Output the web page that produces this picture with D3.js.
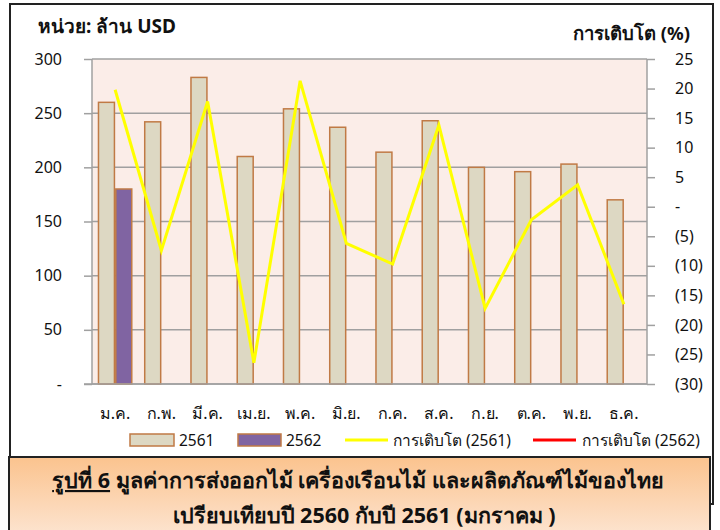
<!DOCTYPE html>
<html lang="th">
<head>
<meta charset="UTF-8">
<script src="https://cdn.jsdelivr.net/npm/d3@7"></script>
<style>
    * { margin: 0; padding: 0; }
    body { background: #fff; }
    text { font-family: Tahoma, "Noto Sans", "DejaVu Sans", sans-serif; fill: #111; }
</style>
<title>มูลค่าการส่งออกไม้</title>
</head>
<body>
<script>
    const width = 720;
    const height = 530;

    const months = ["ม.ค.", "ก.พ.", "มี.ค.", "เม.ย.", "พ.ค.", "มิ.ย.", "ก.ค.", "ส.ค.", "ก.ย.", "ต.ค.", "พ.ย.", "ธ.ค."];
    const years = ["2561", "2562"];
    const value2561 = [260, 242, 283, 210, 254, 237, 214, 243, 200, 196, 203, 170];
    const value2562 = [180];
    const growth2561 = [19.8, -7.4, 17.8, -26.4, 21.3, -6.2, -9.7, 13.8, -17.2, -2.2, 3.7, -16.5];
    const growth2562 = [];
    const leftTicks = [0, 50, 100, 150, 200, 250, 300];
    const rightTicks = [25, 20, 15, 10, 5, 0, -5, -10, -15, -20, -25, -30];

    const plot = { left: 92, right: 647, top: 59, bottom: 384 };
    const barFill = { "2561": "#ddd8c3", "2562": "#8064a2" };
    const barStroke = "#c07a45";
    const gridColor = "#a0a0a0";

    const svg = d3.select("body").append("svg")
        .attr("width", width)
        .attr("height", height);

    // outer frame
    svg.append("rect")
        .attr("x", 10).attr("y", 4)
        .attr("width", 703).attr("height", 500)
        .attr("fill", "#fff")
        .attr("stroke", "#222")
        .attr("stroke-width", 2);

    const x0 = d3.scaleBand().domain(months).range([plot.left, plot.right])
        .paddingInner(0.22).paddingOuter(0.11);
    const x1 = d3.scaleBand().domain(years).range([0, x0.bandwidth()]).padding(0.08);
    const yLeft = d3.scaleLinear().domain([0, 300]).range([plot.bottom, plot.top]);
    const yRight = d3.scaleLinear().domain([-30, 25]).range([plot.bottom, plot.top]);

    // plot background
    svg.append("rect")
        .attr("x", plot.left).attr("y", plot.top)
        .attr("width", plot.right - plot.left).attr("height", plot.bottom - plot.top)
        .attr("fill", "#fbede8");

    // gridlines
    svg.append("g").selectAll("line").data(leftTicks).join("line")
        .attr("x1", plot.left).attr("x2", plot.right)
        .attr("y1", d => yLeft(d)).attr("y2", d => yLeft(d))
        .attr("stroke", gridColor).attr("stroke-width", 1.5);

    // bars
    const rows = months.map((m, i) => ({
        month: m,
        vals: [{ year: "2561", v: value2561[i] }, { year: "2562", v: value2562[i] }].filter(d => d.v != null)
    }));
    const groups = svg.append("g").selectAll("g").data(rows).join("g")
        .attr("transform", d => `translate(${x0(d.month)},0)`);
    groups.selectAll("rect").data(d => d.vals).join("rect")
        .attr("x", d => x1(d.year))
        .attr("y", d => yLeft(d.v))
        .attr("width", x1.bandwidth())
        .attr("height", d => yLeft(0) - yLeft(d.v))
        .attr("fill", d => barFill[d.year])
        .attr("stroke", barStroke)
        .attr("stroke-width", 1.5);

    // axes
    const fmtLeft = d => d === 0 ? "-" : d;
    const fmtRight = d => d === 0 ? "-" : (d < 0 ? `(${-d})` : d);

    const axL = svg.append("g").attr("transform", `translate(${plot.left},0)`)
        .call(d3.axisLeft(yLeft).tickValues(leftTicks).tickSize(8).tickPadding(22).tickFormat(fmtLeft));
    const axR = svg.append("g").attr("transform", `translate(${plot.right},0)`)
        .call(d3.axisRight(yRight).tickValues(rightTicks).tickSize(8).tickPadding(20).tickFormat(fmtRight));
    [axL, axR].forEach(ax => {
        ax.select(".domain").attr("stroke", gridColor).attr("stroke-width", 1.5);
        ax.selectAll(".tick line").attr("stroke", gridColor).attr("stroke-width", 1.5);
        ax.selectAll(".tick text").attr("fill", "#111").style("font-size", "16px")
            .style("font-family", 'Tahoma, "Noto Sans", "DejaVu Sans", sans-serif');
    });
    axL.select(".domain").attr("d", `M0,${plot.top}V${plot.bottom}`);
    axR.select(".domain").attr("d", `M0,${plot.top}V${plot.bottom}`);

    // bottom axis baseline + month labels
    svg.append("line")
        .attr("x1", plot.left - 8).attr("x2", plot.right)
        .attr("y1", plot.bottom).attr("y2", plot.bottom)
        .attr("stroke", gridColor).attr("stroke-width", 1.5);
    svg.append("g").selectAll("text").data(months).join("text")
        .attr("x", d => x0(d) + x0.bandwidth() / 2)
        .attr("y", 419)
        .attr("text-anchor", "middle")
        .style("font-size", "16px")
        .text(d => d);

    // growth lines
    const cx = i => x0(months[i]) + x0.bandwidth() / 2;
    const line = d3.line().x((d, i) => cx(i)).y(d => yRight(d));
    svg.append("path").datum(growth2561)
        .attr("d", line).attr("fill", "none")
        .attr("stroke", "#ffff00").attr("stroke-width", 3).attr("stroke-linejoin", "miter");
    svg.append("path").datum(growth2562)
        .attr("d", line).attr("fill", "none")
        .attr("stroke", "#ff0000").attr("stroke-width", 3);

    // axis titles
    svg.append("text").attr("x", 38).attr("y", 33)
        .style("font-size", "19px").style("font-weight", "bold")
        .text("หน่วย: ล้าน USD");
    svg.append("text").attr("x", 690).attr("y", 40)
        .attr("text-anchor", "end")
        .style("font-size", "18.5px").style("font-weight", "bold")
        .text("การเติบโต (%)");

    // legend
    const legend = svg.append("g");
    legend.append("rect").attr("x", 130).attr("y", 434).attr("width", 44).attr("height", 12)
        .attr("fill", barFill["2561"]).attr("stroke", barStroke).attr("stroke-width", 1.5);
    legend.append("text").attr("x", 179).attr("y", 446).style("font-size", "15.5px").text("2561");
    legend.append("rect").attr("x", 238).attr("y", 434).attr("width", 43).attr("height", 12)
        .attr("fill", barFill["2562"]).attr("stroke", barStroke).attr("stroke-width", 1.5);
    legend.append("text").attr("x", 286).attr("y", 446).style("font-size", "15.5px").text("2562");
    legend.append("line").attr("x1", 345).attr("x2", 388).attr("y1", 440).attr("y2", 440)
        .attr("stroke", "#ffff00").attr("stroke-width", 3);
    legend.append("text").attr("x", 393).attr("y", 446).style("font-size", "15.5px").text("การเติบโต (2561)");
    legend.append("line").attr("x1", 533).attr("x2", 576).attr("y1", 440).attr("y2", 440)
        .attr("stroke", "#ff0000").attr("stroke-width", 3);
    legend.append("text").attr("x", 582).attr("y", 446).style("font-size", "15.5px").text("การเติบโต (2562)");

    // caption box
    const defs = svg.append("defs");
    const grad = defs.append("linearGradient").attr("id", "capGrad")
        .attr("x1", 0).attr("x2", 0).attr("y1", 0).attr("y2", 1);
    grad.append("stop").attr("offset", "0%").attr("stop-color", "#fbc38e");
    grad.append("stop").attr("offset", "100%").attr("stop-color", "#fde9da");
    svg.append("rect")
        .attr("x", 9).attr("y", 457)
        .attr("width", 701).attr("height", 90)
        .attr("fill", "url(#capGrad)")
        .attr("stroke", "#222").attr("stroke-width", 2);

    const cap1 = svg.append("text").attr("x", 358).attr("y", 488)
        .attr("text-anchor", "middle")
        .style("font-size", "21.5px").style("font-weight", "bold");
    cap1.append("tspan").style("text-decoration", "underline").text("รูปที่ 6");
    cap1.append("tspan").text(" มูลค่าการส่งออกไม้ เครื่องเรือนไม้ และผลิตภัณฑ์ไม้ของไทย");
    svg.append("text").attr("x", 364).attr("y", 523)
        .attr("text-anchor", "middle")
        .style("font-size", "21.5px").style("font-weight", "bold")
        .text("เปรียบเทียบปี 2560 กับปี 2561 (มกราคม )");
</script>
</body>
</html>
